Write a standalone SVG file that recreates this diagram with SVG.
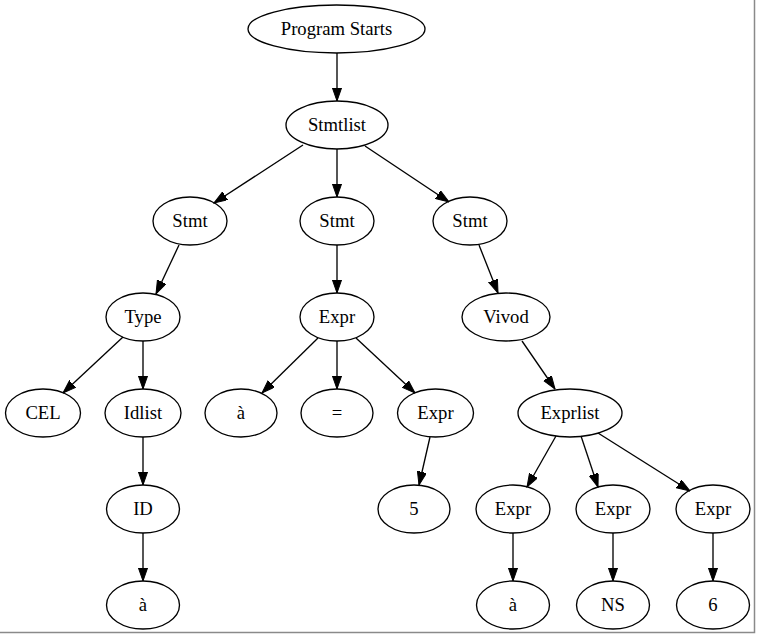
<svg xmlns="http://www.w3.org/2000/svg" width="757" height="635" viewBox="0 0 757 635">
<style>
.n ellipse{fill:none;stroke:#000;stroke-width:1.33}
.n text{font-family:'Liberation Serif','Times New Roman','DejaVu Serif',serif;font-size:18.67px;text-anchor:middle;fill:#000}
.e line{stroke:#000;stroke-width:1.33;marker-end:url(#ah)}
</style>
<defs>
<marker id="ah" markerUnits="userSpaceOnUse" markerWidth="14" markerHeight="10" refX="13.3" refY="4.67" orient="auto">
<path d="M0,0 L13.3,4.67 L0,9.33 Z" fill="#000" stroke="#000" stroke-width="1"/>
</marker>
</defs>
<rect width="757" height="635" fill="#fff"/>
<g id="edges" class="e">
<line x1="337" y1="53" x2="337" y2="101"/>
<line x1="303" y1="145" x2="214" y2="203"/>
<line x1="337" y1="149" x2="337" y2="197"/>
<line x1="365" y1="146" x2="449" y2="202"/>
<line x1="179" y1="245" x2="156" y2="294"/>
<line x1="337" y1="245" x2="337" y2="293"/>
<line x1="479" y1="245" x2="498" y2="293"/>
<line x1="123" y1="337" x2="63" y2="393"/>
<line x1="143" y1="341" x2="143" y2="389"/>
<line x1="143" y1="437" x2="143" y2="485"/>
<line x1="143" y1="533" x2="143" y2="581"/>
<line x1="318" y1="338" x2="262" y2="393"/>
<line x1="337" y1="341" x2="337" y2="389"/>
<line x1="356" y1="338" x2="415" y2="393"/>
<line x1="430" y1="437" x2="419" y2="485"/>
<line x1="522" y1="341" x2="555" y2="389"/>
<line x1="556" y1="436" x2="527" y2="487"/>
<line x1="581" y1="436" x2="598" y2="487"/>
<line x1="598" y1="433" x2="690" y2="491"/>
<line x1="513" y1="533" x2="513" y2="581"/>
<line x1="613" y1="533" x2="613" y2="581"/>
<line x1="713" y1="533" x2="713" y2="581"/>
</g>
<g id="n_program" class="n"><ellipse cx="336.5" cy="29" rx="88.5" ry="24"/><text x="336.5" y="35" font-family="Liberation Serif, serif">Program Starts</text></g>
<g id="n_stmtlist" class="n"><ellipse cx="337" cy="125" rx="51" ry="24"/><text x="337" y="131">Stmtlist</text></g>
<g id="n_stmt1" class="n"><ellipse cx="190" cy="221" rx="37" ry="24"/><text x="190" y="227">Stmt</text></g>
<g id="n_stmt2" class="n"><ellipse cx="337" cy="221" rx="37" ry="24"/><text x="337" y="227">Stmt</text></g>
<g id="n_stmt3" class="n"><ellipse cx="470" cy="221" rx="37" ry="24"/><text x="470" y="227">Stmt</text></g>
<g id="n_type" class="n"><ellipse cx="143" cy="317" rx="37" ry="24"/><text x="143" y="323">Type</text></g>
<g id="n_expr1" class="n"><ellipse cx="337" cy="317" rx="37" ry="24"/><text x="337" y="323">Expr</text></g>
<g id="n_vivod" class="n"><ellipse cx="506" cy="317" rx="44" ry="24"/><text x="506" y="323">Vivod</text></g>
<g id="n_cel" class="n"><ellipse cx="43" cy="413" rx="37.5" ry="24"/><text x="43" y="419">CEL</text></g>
<g id="n_idlist" class="n"><ellipse cx="143" cy="413" rx="38" ry="24"/><text x="143" y="419">Idlist</text></g>
<g id="n_a1" class="n"><ellipse cx="241" cy="413" rx="36" ry="24"/><text x="241" y="419">à</text></g>
<g id="n_eq" class="n"><ellipse cx="337" cy="413" rx="36" ry="24"/><text x="337" y="419">=</text></g>
<g id="n_expr2" class="n"><ellipse cx="435.5" cy="413" rx="38" ry="24"/><text x="435.5" y="419">Expr</text></g>
<g id="n_exprlist" class="n"><ellipse cx="570" cy="413" rx="52" ry="24"/><text x="570" y="419">Exprlist</text></g>
<g id="n_id" class="n"><ellipse cx="143" cy="509" rx="36.5" ry="24"/><text x="143" y="515">ID</text></g>
<g id="n_5" class="n"><ellipse cx="414" cy="509" rx="36" ry="24"/><text x="414" y="515">5</text></g>
<g id="n_expr3" class="n"><ellipse cx="513" cy="509" rx="37" ry="24"/><text x="513" y="515">Expr</text></g>
<g id="n_expr4" class="n"><ellipse cx="613" cy="509" rx="37" ry="24"/><text x="613" y="515">Expr</text></g>
<g id="n_expr5" class="n"><ellipse cx="713" cy="509" rx="37" ry="24"/><text x="713" y="515">Expr</text></g>
<g id="n_a2" class="n"><ellipse cx="143" cy="605" rx="36.5" ry="24"/><text x="143" y="611">à</text></g>
<g id="n_a3" class="n"><ellipse cx="513" cy="605" rx="36.5" ry="24"/><text x="513" y="611">à</text></g>
<g id="n_ns" class="n"><ellipse cx="613" cy="605" rx="36.5" ry="24"/><text x="613" y="611">NS</text></g>
<g id="n_6" class="n"><ellipse cx="713" cy="605" rx="36.5" ry="24"/><text x="713" y="611">6</text></g>
<path d="M754.5,0 V632.5 H0" fill="none" stroke="#8a8a8a" stroke-width="1.5"/>
</svg>
